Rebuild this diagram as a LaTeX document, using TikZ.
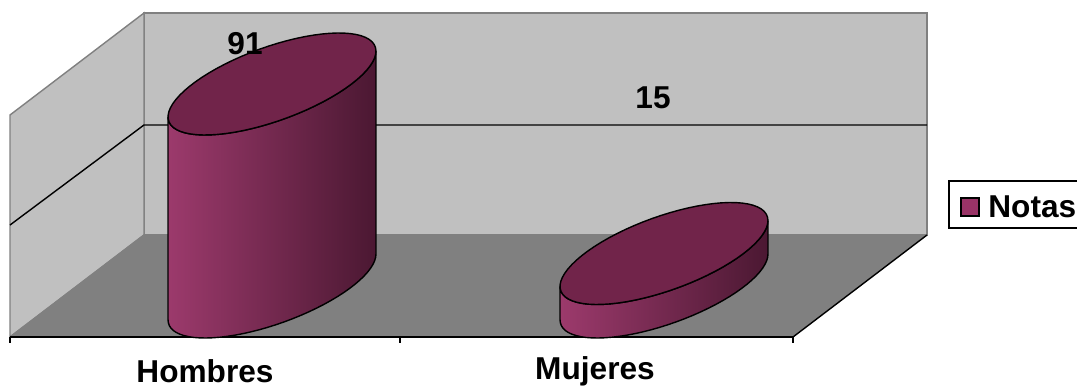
\documentclass[tikz,border=0pt]{standalone}
\usepackage{fontspec}
\setmainfont{Liberation Sans}
\definecolor{wallgray}{HTML}{C0C0C0}
\definecolor{floorgray}{HTML}{808080}
\definecolor{plum}{HTML}{993366}
\definecolor{plumtop}{HTML}{71244A}
\definecolor{plumlight}{HTML}{9C3A6C}
\definecolor{plumdark}{HTML}{4B1832}

% one cylinder: #1 centre x, #2 top centre y, #3 bottom centre y
\newcommand{\drawcylinder}[3]{%
  \shadedraw[left color=plumlight, right color=plumdark, line width=0.8pt]
    plot[domain=220.13:400.13, samples=40] ({#1+ex(\x)}, {#3+ey(\x)})
    --plot[domain=400.13:220.13, samples=40] ({#1+ex(\x)}, {#2+ey(\x)}) -- cycle;
  \draw[fill=plumtop, line width=0.8pt]
    plot[domain=0:360, samples=72] ({#1+ex(\x)}, {#2+ey(\x)}) -- cycle;
}

\begin{document}
\begin{tikzpicture}[x=0.02cm, y=-0.02cm,
    wall/.style={fill=wallgray, draw=floorgray, line width=0.8pt},
    grid/.style={draw=black, line width=0.8pt},
    label/.style={font=\fontsize{18}{20}\selectfont\bfseries, inner sep=0pt},
    declare function={ex(\t)=79.5*cos(\t)+67*sin(\t); ey(\t)=-51*sin(\t);}]
      \useasboundingbox (0,0) rectangle (1077,388);
      \clip (0,0) rectangle (1077,388);
      % Walls:
      %   back wall, left wall and the floor of the chart
      \path[wall] (144,13) rectangle (927,235);
      \path[wall] (10,115) -- (144,13) -- (144,235) -- (10,337) -- cycle;
      \fill[floorgray] (10,337) -- (793,337) -- (927,235) -- (144,235) -- cycle;
      \draw[floorgray, line width=0.8pt] (10,337) -- (144,235) -- (927,235);
      \draw[grid] (793,337) -- (927,235);
      % Gridline:
      %   the one value line on the walls
      \draw[grid] (10,225) -- (144,125) -- (927,125);
      % Axis:
      %   category axis with its ticks
      \draw[grid] (10,337) -- (793,337);
      \draw[grid] (10,337) -- (10,343) (400,337) -- (400,343) (793,337) -- (793,343);
      % Bars:
      %   Hombres and Mujeres
      \drawcylinder{272}{84}{287}
      \drawcylinder{664}{253.5}{287}
      % Labels:
      %   values and categories
      \node[label] (HombresValue) at (245,44) {91};
      \node[label] (MujeresValue) at (653,98) {15};
      \node[label] (HombresLabel) at (205,371) {Hombres};
      \node[label] (MujeresLabel) at (595,371) {Mujeres};
      % Legend:
      %   one entry, cut at the right edge
      \draw[fill=white, line width=0.8pt] (949,181) rectangle (1100,228);
      \draw[fill=plum, line width=0.8pt] (961,198) rectangle (979,216);
      \node[label, anchor=west] (NotasLabel) at (988,207) {Notas};
    \end{tikzpicture}
\end{document}
